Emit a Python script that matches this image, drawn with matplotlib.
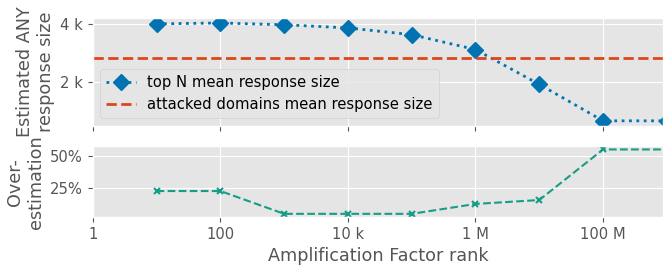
import matplotlib
matplotlib.use("Agg")
import matplotlib.pyplot as plt
from matplotlib.ticker import EngFormatter, PercentFormatter, LogLocator, NullLocator

plt.style.use("ggplot")
plt.rcParams["font.size"] = 10.6
plt.rcParams["axes.labelsize"] = 12.7

# top N rank (last value is beyond the visible range)
ranks = [10, 100, 1e3, 1e4, 1e5, 1e6, 1e7, 1e8, 1e9]
mean_size = [4000, 4030, 3970, 3860, 3630, 3120, 1930, 680, 680]
attacked_mean = 2814
overestimation = [22.7, 22.7, 4.7, 4.7, 4.7, 12.5, 15.6, 55.5, 55.5]

fig, (ax1, ax2) = plt.subplots(2, 1, sharex=True, figsize=(6.63, 2.66), dpi=100,
                               gridspec_kw={"height_ratios": [1.52, 1]})
fig.subplots_adjust(left=0.140, right=1.0, top=0.932, bottom=0.184, hspace=0.23)

ax1.plot(ranks, mean_size, ":", marker="D", color="#0173B2", lw=2, ms=8,
         label="top N mean response size")
ax1.axhline(attacked_mean, color="#D9481C", ls="--", lw=2,
            label="attacked domains mean response size")
ax1.set_xscale("log")
ax1.set_xlim(1, 10**8.94)
ax1.set_yticks([2000, 4000])
ax1.yaxis.set_major_formatter(EngFormatter(sep=" "))
ax1.set_ylabel("Estimated ANY\nresponse size")
ax1.legend(loc="lower left")

ax2.plot(ranks, overestimation, "--", marker="x", color="#159E86", lw=1.5, ms=5,
         mew=1.5)
ax2.set_yticks([25, 50])
ax2.yaxis.set_major_formatter(PercentFormatter(xmax=100, decimals=0))
ax2.set_ylabel("Over-\nestimation")
ax2.set_xlabel("Amplification Factor rank")

ax2.xaxis.set_major_locator(LogLocator(base=100))
ax2.xaxis.set_minor_locator(NullLocator())
ax2.xaxis.set_major_formatter(EngFormatter(sep=" "))

fig.savefig("out.png", dpi=100)
